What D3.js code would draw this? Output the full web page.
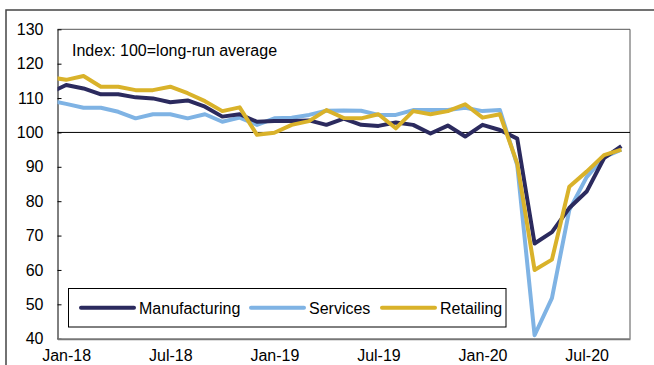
<!DOCTYPE html>
<html>
<head>
<meta charset="utf-8">
<script src="https://cdn.jsdelivr.net/npm/d3@7"></script>
<style>
  body { margin: 0; background: #fff; }
  text { font-family: "Liberation Sans", Arial, sans-serif; }
</style>
</head>
<body>
<div id="chart"></div>
<script>
  ///////////////////////////////// Data /////////////////////////////////
  // month index -1 = Dec-17 (only the clipped stub on the left edge shows), 0 = Jan-18 ... 32 = Sep-20
  var months = d3.range(-1, 33)
  var tickIdx = [0, 6, 12, 18, 24, 30]
  var tickLabels = ["Jan-18", "Jul-18", "Jan-19", "Jul-19", "Jan-20", "Jul-20"]
  var yTicks = [40, 50, 60, 70, 80, 90, 100, 110, 120, 130]

  var manufacturing = [111.4,
    113.8, 112.8, 111.1, 111.1, 110.2, 109.9, 108.8, 109.3, 107.5, 104.6, 105.3, 103.1,
    103.3, 103.3, 103.5, 102.2, 104.0, 102.2, 101.9, 102.9, 102.2, 99.7, 102.0, 98.8,
    102.2, 100.7, 98.2, 67.7, 71.0, 78.0, 82.8, 92.5, 96.0]
  var services = [109.3,
    108.3, 107.2, 107.2, 106.0, 104.1, 105.3, 105.3, 104.1, 105.3, 103.1, 104.3, 102.2,
    104.1, 104.3, 105.1, 106.3, 106.4, 106.3, 105.1, 105.1, 106.5, 106.5, 106.5, 107.2,
    106.2, 106.5, 90.5, 41.0, 51.8, 77.4, 87.0, 92.8, 95.0]
  var retailing = [116.1,
    115.3, 116.4, 113.3, 113.3, 112.3, 112.3, 113.3, 111.4, 109.1, 106.2, 107.3, 99.3,
    99.9, 102.2, 103.3, 106.5, 104.2, 104.1, 105.3, 101.2, 106.2, 105.3, 106.2, 108.2,
    104.3, 105.3, 91.0, 60.0, 63.0, 84.2, 88.6, 93.4, 95.0]

  var seriesNames = ["Manufacturing", "Services", "Retailing"]
  var seriesColors = ["#2b2a5e", "#7fb3e4", "#d9b22a"]

  ///////////////////////////////// Layout /////////////////////////////////
  var W = 654, H = 365
  var plot = {left: 57.5, right: 630, top: 29.3, bottom: 338.7}

  var svg = d3.select("#chart").append("svg")
    .attr("width", W)
    .attr("height", H)

  var x = d3.scaleLinear()
    .domain([-0.5, 32.5])
    .range([plot.left, plot.right])

  var y = d3.scaleLinear()
    .domain([40, 130])
    .range([plot.bottom, plot.top])

  // outer chart frame (runs off the right and bottom of the picture)
  svg.append("path")
    .attr("d", "M6," + (H + 5) + "V10H" + (W + 5))
    .attr("fill", "none")
    .attr("stroke", "#444")
    .attr("stroke-width", 1.5)

  // plot frame: top and right
  svg.append("path")
    .attr("d", "M" + plot.left + "," + plot.top + "H" + plot.right + "V" + plot.bottom)
    .attr("fill", "none")
    .attr("stroke", "#555")
    .attr("stroke-width", 1)

  // 100 reference line
  svg.append("line")
    .attr("x1", plot.left).attr("x2", plot.right)
    .attr("y1", y(100)).attr("y2", y(100))
    .attr("stroke", "#000")
    .attr("stroke-width", 1)

  ///////////////////////////////// Axes /////////////////////////////////
  var yAxis = svg.append("g")
    .attr("transform", "translate(" + plot.left + ",0)")
    .call(d3.axisLeft(y).tickValues(yTicks).tickSizeInner(-4).tickSizeOuter(0).tickPadding(14))
  yAxis.select(".domain").attr("stroke", "#000")
  yAxis.selectAll(".tick line").attr("stroke", "#000")
  yAxis.selectAll("text")
    .attr("font-size", 16)
    .attr("fill", "#000")
    .attr("font-family", "Liberation Sans, Arial, sans-serif")

  var xAxis = svg.append("g")
    .attr("transform", "translate(0," + plot.bottom + ")")
    .call(d3.axisBottom(x).tickValues(tickIdx).tickSize(0).tickPadding(11)
      .tickFormat(function(d, i) { return tickLabels[i] }))
  xAxis.select(".domain").attr("stroke", "#777").attr("stroke-width", 2)
  xAxis.selectAll("text")
    .attr("font-size", 16)
    .attr("fill", "#000")
    .attr("font-family", "Liberation Sans, Arial, sans-serif")

  ///////////////////////////////// Lines /////////////////////////////////
  svg.append("clipPath").attr("id", "plot-clip")
    .append("rect")
    .attr("x", plot.left).attr("y", plot.top)
    .attr("width", plot.right - plot.left).attr("height", plot.bottom - plot.top)

  var line = d3.line()
    .x(function(d) { return x(d[0]) })
    .y(function(d) { return y(d[1]) })

  var allSeries = [manufacturing, services, retailing]
  // draw services first so manufacturing and retailing sit on top of it
  var order = [1, 0, 2]
  var linesG = svg.append("g").attr("clip-path", "url(#plot-clip)")
  order.forEach(function(k) {
    linesG.append("path")
      .datum(d3.zip(months, allSeries[k]))
      .attr("d", line)
      .attr("fill", "none")
      .attr("stroke", seriesColors[k])
      .attr("stroke-width", 4)
      .attr("stroke-linejoin", "round")
  })

  ///////////////////////////////// Labels /////////////////////////////////
  svg.append("text")
    .attr("x", 72)
    .attr("y", 56)
    .attr("font-size", 16)
    .attr("fill", "#000")
    .text("Index: 100=long-run average")

  ///////////////////////////////// Legend /////////////////////////////////
  var legend = svg.append("g")
  legend.append("rect")
    .attr("x", 68.5).attr("y", 288.5)
    .attr("width", 437.5).attr("height", 38.5)
    .attr("fill", "#fff")
    .attr("stroke", "#000")
    .attr("stroke-width", 1)

  var legendX = [81, 251, 382]
  seriesNames.forEach(function(name, i) {
    legend.append("line")
      .attr("x1", legendX[i]).attr("x2", legendX[i] + 53)
      .attr("y1", 307.7).attr("y2", 307.7)
      .attr("stroke", seriesColors[i])
      .attr("stroke-width", 4)
      .attr("stroke-linecap", "round")
    legend.append("text")
      .attr("x", legendX[i] + 58)
      .attr("y", 313.5)
      .attr("font-size", 16)
      .attr("fill", "#000")
      .text(name)
  })
</script>
</body>
</html>
